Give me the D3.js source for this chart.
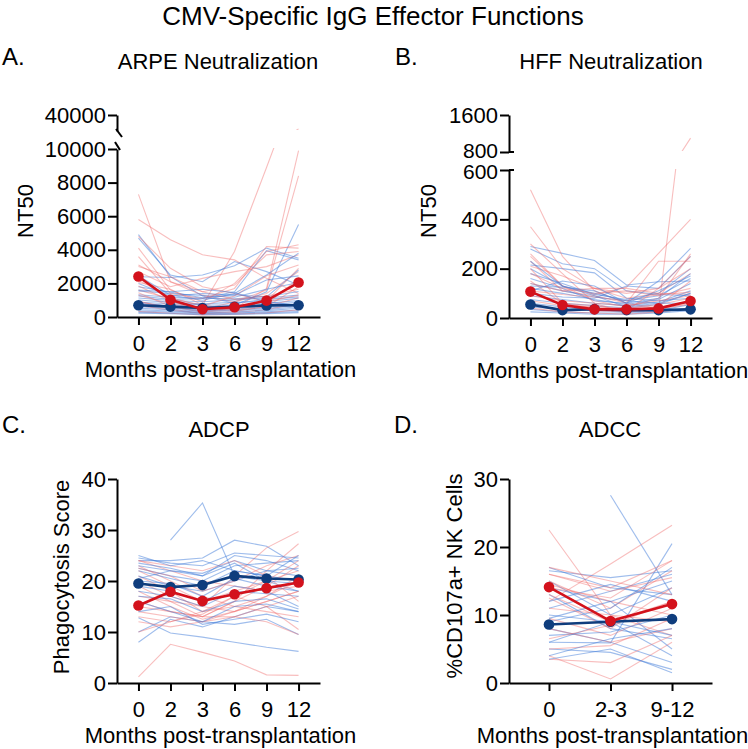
<!DOCTYPE html>
<html>
<head>
<meta charset="utf-8">
<script src="https://cdn.jsdelivr.net/npm/d3@7"></script>
<style>
  body { margin: 0; background: #fff; }
  svg { font-family: "Liberation Sans", Arial, sans-serif; }
</style>
</head>
<body>
<div id="chart"></div>
<script>
const months = ["0", "2", "3", "6", "9", "12"];
const adccMonths = ["0", "2-3", "9-12"];

// A. ARPE neutralization (NT50)
const arpeRedMean = [2410, 1020, 460, 580, 975, 2050];
const arpeBlueMean = [700, 620, 540, 610, 690, 700];
const arpeRed = [
  [7300, 2100, 1300, 900, 1400, 2700],
  [5800, 4600, 3700, 3400, 2300, 1400],
  [1600, 1100, 700, 3900, 8900, 14000],
  [900, 600, 350, 500, 1700, 9900],
  [1300, 800, 450, 900, 1600, 8400],
  [4100, 1600, 900, 2000, 3900, 4300],
  [3600, 1400, 1100, 1700, 4200, 4100],
  [3100, 2100, 1500, 1900, 3700, 3900],
  [2700, 1800, 2300, 2700, 3000, 3700],
  [2200, 1150, 650, 1250, 2450, 3100],
  [1850, 950, 320, 520, 950, 2900],
  [1450, 620, 280, 430, 740, 2300],
  [950, 480, 210, 330, 620, 1150],
  [680, 410, 190, 260, 430, 820],
  [3000, 2400, 1500, 1050, 1250, 1650],
  [2050, 1650, 720, 380, 610, 1800],
  [4800, 2900, 1800, 1400, 900, 1300],
  [330, 220, 120, 160, 240, 430]
];
const arpeBlue = [
  [4900, 2400, 1250, 820, 1050, 1200],
  [4700, 2500, 2100, 3300, 2700, 1900],
  [820, 640, 520, 700, 1500, 5500],
  [2400, 2350, 2500, 3050, 4100, 3500],
  [1250, 1050, 1100, 1500, 3950, 3400],
  [1800, 1480, 1150, 1320, 1200, 2800],
  [1550, 1400, 1280, 1180, 1650, 2050],
  [1320, 1180, 1120, 1080, 1210, 1520],
  [1130, 980, 910, 1020, 1130, 1310],
  [1010, 870, 780, 880, 920, 1120],
  [880, 790, 720, 700, 810, 980],
  [790, 680, 610, 630, 720, 880],
  [700, 610, 480, 520, 600, 790],
  [610, 520, 420, 450, 520, 690],
  [520, 440, 360, 390, 450, 610],
  [430, 360, 300, 310, 380, 520],
  [360, 300, 260, 240, 310, 420],
  [290, 240, 190, 210, 260, 330],
  [230, 190, 140, 150, 200, 260],
  [2000, 1250, 1400, 1300, 2200, 2450],
  [1600, 1500, 1650, 1450, 900, 700],
  [2450, 1300, 1000, 1400, 2500, 3800]
];

// B. HFF neutralization (NT50)
const hffRedMean = [107, 53, 35, 35, 39, 69];
const hffBlueMean = [55, 32, 36, 32, 32, 35];
const hffRed = [
  [520, 250, 110, 60, 40, 55],
  [150, 60, 40, 30, 30, 1100],
  [260, 130, 95, 125, 262, 400],
  [370, 200, 120, 80, 100, 180],
  [250, 130, 70, 45, 80, 260],
  [230, 110, 90, 60, 230, 230],
  [210, 170, 120, 100, 120, 200],
  [180, 120, 100, 110, 90, 120],
  [140, 110, 120, 120, 100, 95],
  [110, 95, 85, 70, 95, 105],
  [90, 70, 60, 50, 70, 90],
  [70, 50, 45, 40, 55, 80],
  [50, 35, 30, 25, 35, 60],
  [300, 180, 60, 20, 50, 150],
  [40, 25, 20, 15, 25, 40],
  [200, 60, 50, 30, 120, 250]
];
const hffBlue = [
  [290, 262, 233, 134, 147, 150],
  [280, 220, 200, 110, 95, 90],
  [215, 200, 183, 80, 70, 80],
  [130, 125, 110, 60, 150, 282],
  [100, 85, 80, 130, 120, 250],
  [180, 140, 95, 75, 100, 200],
  [160, 120, 70, 60, 80, 180],
  [140, 110, 85, 70, 90, 160],
  [120, 100, 75, 55, 75, 140],
  [90, 75, 60, 50, 65, 110],
  [75, 60, 50, 40, 55, 100],
  [60, 45, 35, 30, 40, 70],
  [45, 35, 30, 25, 30, 55],
  [35, 25, 20, 20, 25, 40],
  [25, 20, 15, 15, 20, 30],
  [200, 130, 100, 70, 60, 60],
  [230, 130, 90, 45, 60, 100],
  [110, 150, 130, 60, 110, 170]
];

// C. ADCP (phagocytosis score)
const adcpRedMean = [15.2, 17.9, 16.1, 17.4, 18.6, 19.7];
const adcpBlueMean = [19.5, 18.8, 19.2, 21.0, 20.5, 20.3];
const adcpRed = [
  [1.2, 7.6, 6.0, 4.3, 1.6, 1.5],
  [17, 16, 15, 21, 26.5, 29.7],
  [15, 14, 13, 16, 22, 27.3],
  [24, 22, 20, 19, 18, 19],
  [23, 20, 17, 15, 14, 13],
  [22, 19, 16, 18, 20, 22],
  [21, 18, 14, 15, 17, 20],
  [20, 17, 15, 14, 16, 18],
  [19, 16, 13, 13, 15, 17],
  [18, 15, 12.5, 14, 17, 21],
  [16, 14, 13, 16, 19, 23],
  [14, 13, 12, 14, 16, 18],
  [13, 12, 13.5, 17, 15, 10.5],
  [12, 11, 12, 13, 12, 9.5],
  [24, 23, 22, 24, 21, 16],
  [10, 12, 14, 17, 20, 24],
  [22.5, 21, 18, 20, 23, 25]
];
const adcpBlue = [
  [null, 28, 35.3, 21, 20, 18],
  [24, 24, 24.5, 28, 26.8, 23],
  [12.8, 9.8, 9.0, 8.0, 7.0, 6.2],
  [8, 12.5, 11, 13, 15, 14],
  [10, 13, 12, 11.5, 12.5, 9.5],
  [24.5, 23.5, 23, 25.5, 25, 24.5],
  [23.5, 22.5, 21, 25, 24, 22],
  [23, 22, 21.5, 24, 22, 21],
  [22.5, 21, 20, 23, 23.5, 24],
  [22, 20.5, 19, 22, 21, 20],
  [21, 19, 18, 20, 22, 22.5],
  [20, 19.5, 17, 20.5, 19, 18],
  [19, 18, 16, 19, 18, 15],
  [18, 17, 15, 18, 17.5, 17],
  [17, 16.5, 14, 16, 16.5, 14.5],
  [16, 14, 12, 15, 15.5, 14],
  [14, 15, 11.5, 12.5, 13.5, 12],
  [25, 23, 24, 22, 21, 25],
  [20.5, 22, 21, 23.5, 20, 19.5]
];

// D. ADCC (%CD107a+ NK cells)
const adccRedMean = [14.1, 9.1, 11.6];
const adccBlueMean = [8.6, 9.0, 9.4];
const adccRed = [
  [22.5, 10, 7],
  [12, 17.5, 23.2],
  [4, 0.6, 6],
  [17, 15, 13],
  [16, 14, 18],
  [15, 11, 16.5],
  [14.5, 12, 10],
  [13, 9, 12],
  [12.5, 8, 14],
  [11, 10, 9],
  [9.5, 7, 11],
  [8, 6, 8],
  [6.5, 8.5, 12],
  [5, 5.5, 9.5],
  [3.5, 3, 7],
  [16, 13.5, 15.5],
  [14, 12.5, 18]
];
const adccBlue = [
  [null, 27.6, 13],
  [6, 5.9, 20.5],
  [17, 14, 13],
  [16.5, 15.5, 16.5],
  [15, 10, 14],
  [14, 12, 5],
  [13, 8, 6.5],
  [11, 13.5, 16],
  [10, 9, 7],
  [9, 11, 17],
  [8, 6, 3],
  [7, 7.5, 10],
  [6, 9, 4],
  [5, 4.5, 2],
  [4, 6.5, 8],
  [3.5, 5, 1.5],
  [12, 14.5, 12],
  [9.5, 12, 15]
];

const RED = "#d3121c", BLUE = "#0f3d7d";
const RED_THIN = "#ef6f6f", BLUE_THIN = "#3f7bd9";

const svg = d3.select("#chart")
  .append("svg")
  .attr("width", 748)
  .attr("height", 749);

svg.append("text")
  .attr("x", 373).attr("y", 25)
  .attr("text-anchor", "middle")
  .style("font-size", "26px")
  .text("CMV-Specific IgG Effector Functions");

function drawPanel(p) {
  const g = svg.append("g");
  const x = d3.scalePoint().domain(p.cats).range([p.x0, p.x1]).padding(p.pad);

  // letters and titles
  g.append("text").attr("x", p.letterX).attr("y", p.letterY)
    .style("font-size", "24px").text(p.letter);
  g.append("text").attr("x", p.titleX).attr("y", p.letterY + 4)
    .attr("text-anchor", "middle").style("font-size", "22px").text(p.title);
  g.append("text")
    .attr("transform", `translate(${p.yLabelX},${p.yLabelY}) rotate(-90)`)
    .attr("text-anchor", "middle").style("font-size", "22px").text(p.yLabel);
  g.append("text").attr("x", (p.x0 + p.x1) / 2 + 2).attr("y", p.segs[0].range[0] + 60)
    .attr("text-anchor", "middle").style("font-size", "22px")
    .text("Months post-transplantation");

  p.segs.forEach((s, si) => {
    const sc = d3.scaleLinear().domain(s.domain).range(s.range);
    // below the segment's domain, lines fall away with the given slope
    const y = v => (s.belowK && v < s.domain[0]) ? s.range[0] + (s.domain[0] - v) * s.belowK : sc(v);
    const clipId = `clip-${p.id}-${si}`;
    const top = s.range[1] - 1;
    const bottom = si === 0 ? s.range[0] + 8 : s.range[0] - 1;
    g.append("clipPath").attr("id", clipId)
      .append("rect")
      .attr("x", p.x0).attr("y", top)
      .attr("width", p.x1 - p.x0).attr("height", bottom - top);

    const line = d3.line()
      .defined(d => d != null)
      .x((d, i) => x(p.cats[i]))
      .y(d => y(d));

    const lg = g.append("g").attr("clip-path", `url(#${clipId})`);
    const n = Math.max(p.red.length, p.blue.length);
    for (let i = 0; i < n; i++) {
      if (p.blue[i]) {
        lg.append("path").attr("d", line(p.blue[i]))
          .attr("fill", "none").attr("stroke", BLUE_THIN)
          .attr("stroke-width", 1.1).attr("stroke-opacity", 0.5);
      }
      if (p.red[i]) {
        lg.append("path").attr("d", line(p.red[i]))
          .attr("fill", "none").attr("stroke", RED_THIN)
          .attr("stroke-width", 1.1).attr("stroke-opacity", 0.45);
      }
    }

    const axis = g.append("g")
      .attr("transform", `translate(${p.x0},0)`)
      .call(d3.axisLeft(sc).tickValues(s.ticks).tickFormat(d3.format("d"))
        .tickSize(9).tickSizeOuter(0).tickPadding(2));
    axis.select(".domain").attr("stroke-width", 2).attr("stroke", "#000");
    axis.selectAll(".tick line").attr("stroke-width", 2);
    axis.selectAll(".tick text").style("font-size", "22px").attr("fill", "#000");
    if (s.labelShift) {
      axis.selectAll(".tick text")
        .filter(d => d === s.labelShift.value)
        .style("font-size", "21px")
        .attr("dy", s.labelShift.dy);
    }

    if (si === 0) {
      // group means on top
      [[p.blueMean, BLUE], [p.redMean, RED]].forEach(([vals, col]) => {
        const mg = g.append("g");
        mg.append("path").attr("d", line(vals))
          .attr("fill", "none").attr("stroke", col).attr("stroke-width", 2.6);
        mg.selectAll("circle").data(vals).enter().append("circle")
          .attr("cx", (d, i) => x(p.cats[i]))
          .attr("cy", d => y(d))
          .attr("r", 5.3)
          .attr("fill", col);
      });
    }
  });

  const xAxis = g.append("g")
    .attr("transform", `translate(0,${p.segs[0].range[0]})`)
    .call(d3.axisBottom(x).tickSize(8).tickSizeOuter(0).tickPadding(10));
  xAxis.select(".domain").attr("stroke-width", 2).attr("stroke", "#000");
  xAxis.selectAll(".tick line").attr("stroke-width", 2);
  xAxis.selectAll(".tick text").style("font-size", "22px").attr("fill", "#000");

  // axis breaks
  if (p.breakType === "slash") {
    const b = g.append("g").attr("stroke", "#000").attr("stroke-width", 2);
    b.append("line").attr("x1", p.x0 - 1).attr("y1", 129).attr("x2", p.x0 + 5).attr("y2", 137);
    b.append("line").attr("x1", p.x0 - 2).attr("y1", 142).attr("x2", p.x0 + 3).attr("y2", 150);
  } else if (p.breakType === "cap") {
    const b = g.append("g").attr("stroke", "#000").attr("stroke-width", 2);
    p.segs.forEach((s, si) => {
      const yy = si === 0 ? s.range[1] : s.range[0];
      b.append("line").attr("x1", p.x0).attr("x2", p.x0 + 5).attr("y1", yy).attr("y2", yy);
    });
  }
}

drawPanel({
  id: "a", letter: "A.", letterX: 2, letterY: 65,
  title: "ARPE Neutralization", titleX: 218,
  cats: months, pad: 0.67, x0: 117, x1: 320,
  segs: [
    { domain: [0, 10000], range: [317, 149], ticks: [0, 2000, 4000, 6000, 8000, 10000] },
    { domain: [10000, 40000], range: [131, 115], ticks: [40000], belowK: 0.0168 }
  ],
  breakType: "slash",
  yLabel: "NT50", yLabelX: 33, yLabelY: 211,
  red: arpeRed, blue: arpeBlue, redMean: arpeRedMean, blueMean: arpeBlueMean
});

drawPanel({
  id: "b", letter: "B.", letterX: 395, letterY: 65,
  title: "HFF Neutralization", titleX: 611,
  cats: months, pad: 0.67, x0: 509, x1: 712,
  segs: [
    { domain: [0, 600], range: [318, 170], ticks: [0, 200, 400, 600], labelShift: { value: 600, dy: "0.40em" } },
    { domain: [800, 1600], range: [152, 115], ticks: [800, 1600], labelShift: { value: 800, dy: "0.24em" } }
  ],
  breakType: "cap",
  yLabel: "NT50", yLabelX: 436, yLabelY: 211,
  red: hffRed, blue: hffBlue, redMean: hffRedMean, blueMean: hffBlueMean
});

drawPanel({
  id: "c", letter: "C.", letterX: 2, letterY: 433,
  title: "ADCP", titleX: 219,
  cats: months, pad: 0.67, x0: 117, x1: 320,
  segs: [
    { domain: [0, 40], range: [683, 479], ticks: [0, 10, 20, 30, 40] }
  ],
  breakType: "none",
  yLabel: "Phagocytosis Score", yLabelX: 69, yLabelY: 577,
  red: adcpRed, blue: adcpBlue, redMean: adcpRedMean, blueMean: adcpBlueMean
});

drawPanel({
  id: "d", letter: "D.", letterX: 394, letterY: 433,
  title: "ADCC", titleX: 610,
  cats: adccMonths, pad: 0.65, x0: 509, x1: 712,
  segs: [
    { domain: [0, 30], range: [683, 479], ticks: [0, 10, 20, 30] }
  ],
  breakType: "none",
  yLabel: "%CD107a+ NK Cells", yLabelX: 462, yLabelY: 576,
  red: adccRed, blue: adccBlue, redMean: adccRedMean, blueMean: adccBlueMean
});
</script>
</body>
</html>
